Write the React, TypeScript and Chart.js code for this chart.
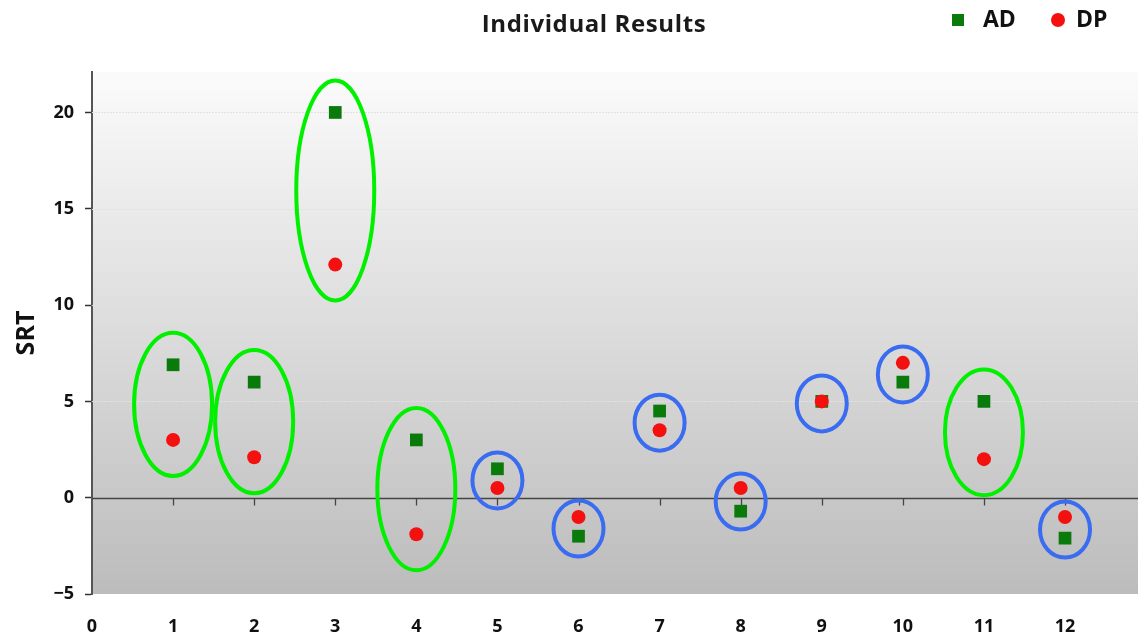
import React, { useEffect, useRef } from "react";
import { Chart, registerables } from "chart.js";

Chart.register(...registerables);

const categories = [1, 2, 3, 4, 5, 6, 7, 8, 9, 10, 11, 12];
const adValues = [6.9, 6.0, 20, 3.0, 1.5, -2.0, 4.5, -0.7, 5.0, 6.0, 5.0, -2.1];
const dpValues = [3.0, 2.1, 12.1, -1.9, 0.5, -1.0, 3.5, 0.5, 5.0, 7.0, 2.0, -1.0];
const ellipseGroups = ["green", "green", "green", "green", "blue", "blue", "blue", "blue", "blue", "blue", "green", "blue"];
const yTickValues = [-5, 0, 5, 10, 15, 20];
const xTickValues = [0, 1, 2, 3, 4, 5, 6, 7, 8, 9, 10, 11, 12];
const gridValues = [5, 10, 15, 20];
const chartTitle = "Individual Results";
const yAxisTitle = "SRT";

const FONT = "'Open Sans', sans-serif";
const AD_COLOR = "#0a7a0a";
const DP_COLOR = "#f51010";

const decorPlugin = {
  id: "decor",
  beforeDraw(chart: any) {
    const { ctx, chartArea } = chart;
    const { left, right, top, bottom } = chartArea;
    ctx.save();
    const g = ctx.createLinearGradient(0, top, 0, bottom);
    g.addColorStop(0, "#fbfbfb");
    g.addColorStop(1, "#bcbcbc");
    ctx.fillStyle = g;
    ctx.fillRect(left, top, right - left, bottom - top);
    ctx.restore();
  },
  beforeDatasetsDraw(chart: any) {
    const { ctx, chartArea, scales } = chart;
    const { left, right } = chartArea;
    const y = scales.y;
    const x = scales.x;
    ctx.save();
    ctx.strokeStyle = "rgba(226,226,226,1)";
    ctx.lineWidth = 1;
    ctx.setLineDash([2, 1]);
    gridValues.forEach((v) => {
      const py = Math.round(y.getPixelForValue(v)) + 0.5;
      ctx.beginPath();
      ctx.moveTo(left, py);
      ctx.lineTo(right, py);
      ctx.stroke();
    });
    ctx.setLineDash([]);
    const zy = Math.round(y.getPixelForValue(0)) + 0.5;
    ctx.strokeStyle = "#444";
    ctx.lineWidth = 1.3;
    ctx.beginPath();
    ctx.moveTo(left, zy);
    ctx.lineTo(right, zy);
    ctx.stroke();
    categories.forEach((c) => {
      const px = Math.round(x.getPixelForValue(c)) + 0.5;
      ctx.beginPath();
      ctx.moveTo(px, zy);
      ctx.lineTo(px, zy + 7);
      ctx.stroke();
    });
    ctx.restore();
  },
  afterDatasetsDraw(chart: any) {
    const { ctx, scales } = chart;
    const x = scales.x;
    const y = scales.y;
    ctx.save();
    ctx.lineWidth = 4;
    categories.forEach((c, i) => {
      const cx = x.getPixelForValue(c);
      const yA = y.getPixelForValue(adValues[i]);
      const yD = y.getPixelForValue(dpValues[i]);
      const cy = (yA + yD) / 2 + 2;
      const half = Math.abs(yA - yD) / 2;
      let rx, ry;
      if (ellipseGroups[i] === "green") {
        ctx.strokeStyle = "#00f000";
        rx = 39;
        ry = half + 34;
      } else {
        ctx.strokeStyle = "#3a6cf2";
        rx = 25;
        ry = 28;
      }
      ctx.beginPath();
      ctx.ellipse(cx, cy, rx, ry, 0, 0, Math.PI * 2);
      ctx.stroke();
    });
    ctx.restore();
  },
  afterDraw(chart: any) {
    const { ctx } = chart;
    ctx.save();
    ctx.fillStyle = "#1a1a1a";
    ctx.font = `bold 24px ${FONT}`;
    ctx.textAlign = "center";
    ctx.textBaseline = "middle";
    try {
      (ctx as any).letterSpacing = "0.6px";
    } catch (e) {}
    ctx.fillText(chartTitle, 594, 25);
    try {
      (ctx as any).letterSpacing = "0px";
    } catch (e) {}
    // legend
    const ds = chart.data.datasets;
    ctx.textAlign = "left";
    ctx.font = `bold 23px ${FONT}`;
    // AD (square)
    ctx.fillStyle = ds[1].backgroundColor;
    ctx.fillRect(952, 14, 12, 12);
    ctx.fillStyle = "#111";
    ctx.fillText(ds[1].label, 983, 20);
    // DP (circle)
    ctx.fillStyle = ds[0].backgroundColor;
    ctx.beginPath();
    ctx.arc(1058, 20, 7, 0, Math.PI * 2);
    ctx.fill();
    ctx.fillStyle = "#111";
    ctx.fillText(ds[0].label, 1076, 20);
    ctx.restore();
  },
};

export default function App() {
  const canvasRef = useRef<HTMLCanvasElement | null>(null);

  useEffect(() => {
    if (!canvasRef.current) return;
    const chart = new Chart(canvasRef.current, {
      type: "scatter",
      data: {
        datasets: [
          {
            label: "DP",
            data: categories.map((c, i) => ({ x: c, y: dpValues[i] })),
            backgroundColor: DP_COLOR,
            borderColor: DP_COLOR,
            pointStyle: "circle",
            pointRadius: 7,
            borderWidth: 0,
            order: 0,
          },
          {
            label: "AD",
            data: categories.map((c, i) => ({ x: c, y: adValues[i] })),
            backgroundColor: AD_COLOR,
            borderColor: AD_COLOR,
            pointStyle: "rect",
            pointRadius: 9,
            borderWidth: 0,
            order: 1,
          },
        ],
      },
      options: {
        responsive: false,
        animation: false,
        layout: { autoPadding: false, padding: { top: 72, right: 0, left: 0, bottom: 0 } },
        plugins: {
          legend: { display: false },
          title: { display: false },
          tooltip: { enabled: false },
        },
        scales: {
          x: {
            type: "linear",
            min: 0,
            max: 12.9,
            afterBuildTicks: (s: any) => {
              s.ticks = xTickValues.map((v) => ({ value: v }));
            },
            afterFit: (s: any) => {
              s.height = 43;
              s.paddingLeft = 0;
              s.paddingRight = 0;
            },
            grid: { display: false, drawTicks: false },
            border: { display: false },
            ticks: {
              padding: 22,
              color: "#111",
              maxRotation: 0,
              autoSkip: false,
              font: { family: FONT, size: 18, weight: "bold" },
            },
          },
          y: {
            type: "linear",
            min: -5,
            max: 22.1,
            afterBuildTicks: (s: any) => {
              s.ticks = yTickValues.map((v) => ({ value: v }));
            },
            afterFit: (s: any) => {
              s.width = 92;
              s.paddingTop = 0;
              s.paddingBottom = 0;
            },
            grid: {
              drawOnChartArea: false,
              drawTicks: true,
              tickLength: 7,
              tickColor: "#333",
              tickWidth: 1.5,
            },
            border: { display: true, color: "#555", width: 2 },
            ticks: {
              padding: 11,
              color: "#111",
              font: { family: FONT, size: 18, weight: "bold" },
              callback: (v: any) => (v < 0 ? "\u2212" + Math.abs(v) : String(v)),
            },
            title: {
              display: true,
              text: yAxisTitle,
              color: "#111",
              padding: { top: 12, bottom: 0 },
              font: { family: FONT, size: 25, weight: "bold" },
            },
          },
        },
      },
      plugins: [decorPlugin],
    } as any);
    return () => chart.destroy();
  }, []);

  return (
    <div style={{ position: "fixed", left: 0, top: 0, width: 1138, height: 637, background: "#fff" }}>
      <canvas ref={canvasRef} width={1138} height={637} />
    </div>
  );
}
